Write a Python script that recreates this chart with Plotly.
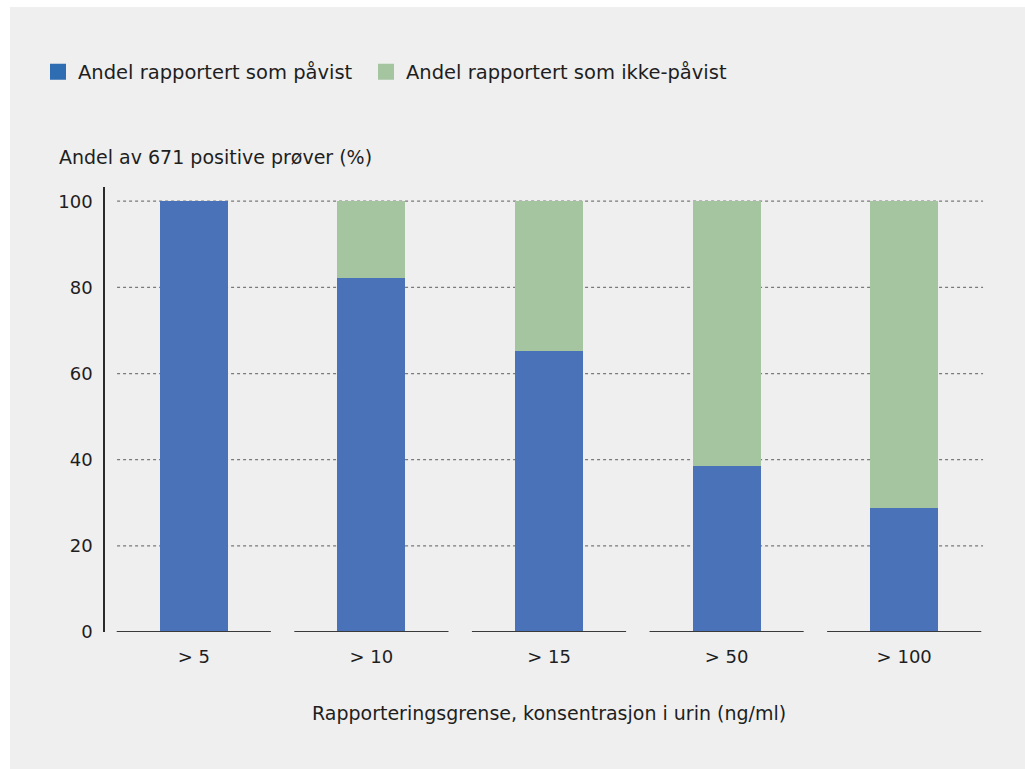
import plotly.graph_objects as go

categories = ["> 5", "> 10", "> 15", "> 50", "> 100"]
pavist = [100, 82.1, 65.2, 38.5, 28.8]
ikke_pavist = [0, 17.9, 34.8, 61.5, 71.2]
y_ticks = [0, 20, 40, 60, 80, 100]
series_names = ["Andel rapportert som påvist", "Andel rapportert som ikke-påvist"]

BLUE = "#4a72b8"
GREEN = "#a5c5a0"
BLUE_LEG = "#2f6db3"
BG = "#efefef"
FONT = "DejaVu Sans"
TXT = "#1e1e1e"

W, H = 1025, 769
L, R = 105, 32
T, B = 187, 137
PW, PH = W - L - R, H - T - B


def px(xpage):
    return (xpage - L) / PW


def py(ypage):
    return (H - B - ypage) / PH


fig = go.Figure()
xs = list(range(len(categories)))
fig.add_trace(go.Bar(x=xs, y=pavist, marker=dict(color=BLUE, line=dict(width=0)),
                     width=0.383, showlegend=False, hoverinfo="skip"))
fig.add_trace(go.Bar(x=xs, y=ikke_pavist, marker=dict(color=GREEN, line=dict(width=0)),
                     width=0.383, showlegend=False, hoverinfo="skip"))
legend_x = [38, 366]
for k, (name, col) in enumerate(zip(series_names, [BLUE_LEG, GREEN])):
    fig.add_trace(go.Scatter(x=[None], y=[None], mode="markers", name=name,
                             legend="legend" if k == 0 else "legend2",
                             marker=dict(symbol="square", size=16, color=col)))

shapes = []
shapes.append(dict(type="rect", xref="paper", yref="paper",
                   x0=px(10), x1=px(1040), y0=py(790), y1=py(7),
                   fillcolor=BG, line=dict(width=0), layer="below"))
for t in y_ticks[1:]:
    shapes.append(dict(type="line", xref="x", yref="y", x0=-0.432, x1=4.444, y0=t, y1=t,
                       line=dict(color="#7a7a7a", width=1.2, dash="dot"), layer="below"))
for i in xs:
    shapes.append(dict(type="line", xref="x", yref="y", x0=i - 0.434, x1=i + 0.434, y0=0, y1=0,
                       line=dict(color="#3a3a3a", width=2), layer="above"))

leg_common = dict(orientation="h", xref="container", yref="container",
                  y=1 - 72 / H, xanchor="left", yanchor="middle",
                  font=dict(size=19.5, color=TXT), bgcolor="rgba(0,0,0,0)", itemwidth=30)

fig.update_layout(
    width=W, height=H,
    paper_bgcolor="white", plot_bgcolor="rgba(0,0,0,0)",
    margin=dict(l=L, r=R, t=T, b=B),
    barmode="stack", bargap=0,
    font=dict(family=FONT, size=18, color=TXT),
    shapes=shapes,
    showlegend=True,
    legend=dict(x=legend_x[0] / W, **leg_common),
    legend2=dict(x=legend_x[1] / W, **leg_common),
    xaxis=dict(range=[-0.5, 4.5], tickvals=xs, ticktext=categories, showgrid=False,
               zeroline=False, showline=False, ticks="", tickfont=dict(size=18, color=TXT),
               ticklabelstandoff=12, fixedrange=True),
    yaxis=dict(range=[0, 103.3], tickvals=y_ticks, showgrid=False, zeroline=False,
               showline=True, linecolor="#2a2a2a", linewidth=1.5, ticks="",
               tickfont=dict(size=18, color=TXT), ticklabelstandoff=7, fixedrange=True),
    annotations=[
        dict(text="Andel av 671 positive prøver (%)", xref="paper", yref="paper",
             x=px(57), y=py(157), xanchor="left", yanchor="middle",
             showarrow=False, font=dict(size=19, color=TXT)),
        dict(text="Rapporteringsgrense, konsentrasjon i urin (ng/ml)", xref="paper", yref="paper",
             x=px(549), y=py(713), xanchor="center", yanchor="middle",
             showarrow=False, font=dict(size=19, color=TXT)),
    ],
)

fig.write_html("out.html", config={"displayModeBar": False},
               post_script="document.body.style.margin='0';document.body.style.overflow='hidden';")
